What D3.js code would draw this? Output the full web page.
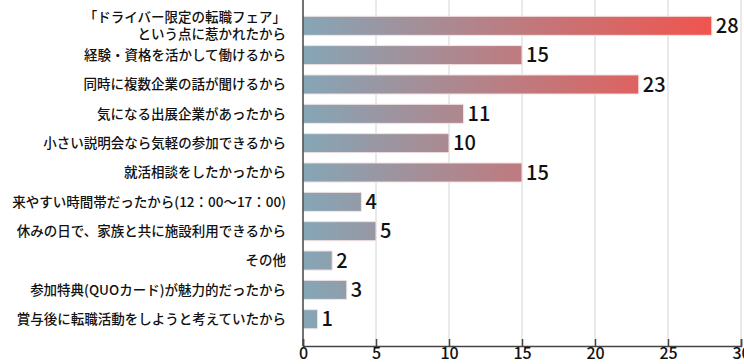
<!DOCTYPE html>
<html>
<head>
<meta charset="utf-8">
<script src="https://cdn.jsdelivr.net/npm/d3@7"></script>
<style>
  body { margin: 0; background: white; }
  text { font-family: "Noto Sans CJK JP", "Noto Sans", sans-serif; }
</style>
</head>
<body>
<svg id="mainSvg" width="744" height="364"></svg>
<script>
// 回答項目（2行ラベルは配列で）
var categories = [
    ["「ドライバー限定の転職フェア」", "という点に惹かれたから"],
    ["経験・資格を活かして働けるから"],
    ["同時に複数企業の話が聞けるから"],
    ["気になる出展企業があったから"],
    ["小さい説明会なら気軽の参加できるから"],
    ["就活相談をしたかったから"],
    ["来やすい時間帯だったから(12：00〜17：00)"],
    ["休みの日で、家族と共に施設利用できるから"],
    ["その他"],
    ["参加特典(QUOカード)が魅力的だったから"],
    ["賞与後に転職活動をしようと考えていたから"]
];
var values = [28, 15, 23, 11, 10, 15, 4, 5, 2, 3, 1];
var xTicks = [0, 5, 10, 15, 20, 25, 30];

var colorLeft = "#85a6b6";
var colorRight = "#f1544e";
var gridColor = "#d4d4d4";
var axisColor = "#444";

function draw()
{
    const svg = d3.select("#mainSvg");
    const margin = {top: 0, left: 303, right: 3, bottom: 18};
    const width = +svg.attr("width"), height = +svg.attr("height");
    const innerWidth = width - margin.left - margin.right;
    const innerHeight = height - margin.top - margin.bottom;

    const g = svg.append("g").attr("transform", `translate(${margin.left}, ${margin.top})`);

    const xScale = d3.scaleLinear().domain([0, 30]).range([0, innerWidth]);
    const idx = d3.range(values.length);
    const yScale = d3.scaleBand().domain(idx).range([6, 339]).padding(0.35);

    // gradient across axis
    const grad = svg.append("defs").append("linearGradient")
        .attr("id", "barGrad")
        .attr("gradientUnits", "userSpaceOnUse")
        .attr("x1", xScale(0)).attr("x2", xScale(28))
        .attr("y1", 0).attr("y2", 0);
    grad.append("stop").attr("offset", "0%").attr("stop-color", colorLeft);
    grad.append("stop").attr("offset", "100%").attr("stop-color", colorRight);

    // grid
    g.selectAll(".grid").data(xTicks.slice(1)).join("line")
        .attr("class", "grid")
        .attr("x1", d => xScale(d)).attr("x2", d => xScale(d))
        .attr("y1", 0).attr("y2", innerHeight)
        .attr("stroke", gridColor).attr("stroke-width", 1);

    // bars
    g.selectAll("rect").data(idx).join("rect")
        .attr("x", xScale(0))
        .attr("y", d => yScale(d))
        .attr("width", d => xScale(values[d]) - xScale(0))
        .attr("height", yScale.bandwidth())
        .attr("fill", "url(#barGrad)")
        .attr("stroke", "#f4e4e4")
        .attr("stroke-width", 1);

    // value labels
    g.selectAll(".val").data(idx).join("text")
        .attr("class", "val")
        .attr("x", d => xScale(values[d]) + 4)
        .attr("y", d => yScale(d) + yScale.bandwidth() / 2)
        .attr("dy", "0.36em")
        .attr("font-family", "'Noto Sans', sans-serif")
        .attr("font-weight", 500)
        .attr("font-size", "20px")
        .attr("fill", "#111")
        .text(d => values[d]);

    // category labels
    const labels = g.selectAll(".cat").data(idx).join("text")
        .attr("class", "cat")
        .attr("text-anchor", "end")
        .attr("font-size", "13.5px")
        .attr("font-weight", 500)
        .attr("fill", "#111")
        .attr("x", -17)
        .attr("y", d => yScale(d) + yScale.bandwidth() / 2);
    labels.each(function(d) {
        const lines = categories[d];
        const t = d3.select(this);
        lines.forEach((s, i) => {
            t.append("tspan")
                .attr("x", -17)
                .attr("dy", i === 0 ? `${0.36 - (lines.length - 1) * 0.64}em` : "1.25em")
                .text(s);
        });
    });

    // x axis
    const xAxis = d3.axisBottom(xScale).tickValues(xTicks).tickSize(-7).tickPadding(3);
    const xAxisGroup = g.append("g").attr("transform", `translate(0, ${innerHeight})`).call(xAxis);
    xAxisGroup.select(".domain").attr("stroke", axisColor).attr("stroke-width", 1.5);
    xAxisGroup.selectAll(".tick line").attr("stroke", axisColor).attr("stroke-width", 1.5);
    xAxisGroup.selectAll(".tick text")
        .attr("font-family", "'Noto Sans', sans-serif")
        .attr("font-size", "16px")
        .attr("font-weight", 500)
        .attr("fill", "#111")
        .attr("dy", "0.6em");

    // y axis line
    g.append("line")
        .attr("x1", 0).attr("x2", 0)
        .attr("y1", 0).attr("y2", innerHeight)
        .attr("stroke", axisColor).attr("stroke-width", 1.5);
}

window.addEventListener("load", draw);
</script>
</body>
</html>
